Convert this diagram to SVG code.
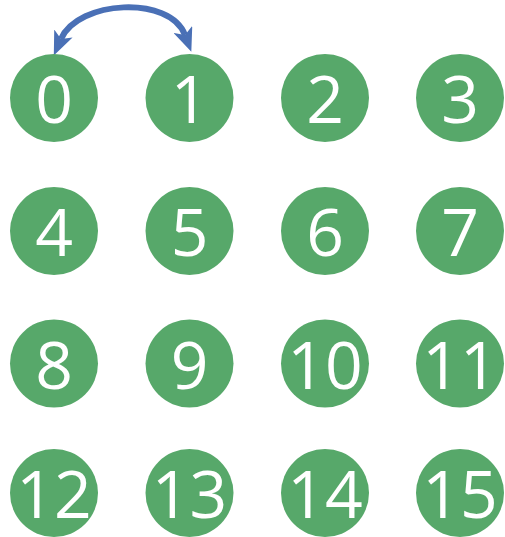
<svg xmlns="http://www.w3.org/2000/svg" width="505" height="537" viewBox="0 0 505 537">
<defs>
<style>
.n circle{fill:#57A86A}
.n text{fill:#fff;font-family:"Open Sans","Liberation Sans",sans-serif;font-size:66px;text-anchor:middle}
.c path{fill:none;stroke:#4A70B6;stroke-width:6}
</style>
<marker id="ah" markerUnits="userSpaceOnUse" markerWidth="25" markerHeight="20" refX="6" refY="10" orient="auto-start-reverse" viewBox="0 0 25 20">
<path d="M0 0 L24 10 L0 20 L6 10 Z" fill="#4A70B6"/>
</marker>
</defs>
<g class="c" id="connectors">
<path d="M61 39 C78 0 170 -5 185 35" marker-start="url(#ah)" marker-end="url(#ah)"/>
</g>
<g class="n" id="n0"><circle cx="54" cy="98" r="44"/><text x="54" y="123">0</text></g>
<g class="n" id="n1"><circle cx="189.5" cy="98" r="44"/><text x="189.5" y="123">1</text></g>
<g class="n" id="n2"><circle cx="325" cy="98" r="44"/><text x="325" y="123">2</text></g>
<g class="n" id="n3"><circle cx="460" cy="98" r="44"/><text x="460" y="123">3</text></g>
<g class="n" id="n4"><circle cx="54" cy="231" r="44"/><text x="54" y="256">4</text></g>
<g class="n" id="n5"><circle cx="189.5" cy="231" r="44"/><text x="189.5" y="256">5</text></g>
<g class="n" id="n6"><circle cx="325" cy="231" r="44"/><text x="325" y="256">6</text></g>
<g class="n" id="n7"><circle cx="460" cy="231" r="44"/><text x="460" y="256">7</text></g>
<g class="n" id="n8"><circle cx="54" cy="363.5" r="44"/><text x="54" y="388.5">8</text></g>
<g class="n" id="n9"><circle cx="189.5" cy="363.5" r="44"/><text x="189.5" y="388.5">9</text></g>
<g class="n" id="n10"><circle cx="325" cy="363.5" r="44"/><text x="325" y="388.5">10</text></g>
<g class="n" id="n11"><circle cx="460" cy="363.5" r="44"/><text x="460" y="388.5">11</text></g>
<g class="n" id="n12"><circle cx="54" cy="493" r="44"/><text x="54" y="518">12</text></g>
<g class="n" id="n13"><circle cx="189.5" cy="493" r="44"/><text x="189.5" y="518">13</text></g>
<g class="n" id="n14"><circle cx="325" cy="493" r="44"/><text x="325" y="518">14</text></g>
<g class="n" id="n15"><circle cx="460" cy="493" r="44"/><text x="460" y="518">15</text></g>
</svg>
